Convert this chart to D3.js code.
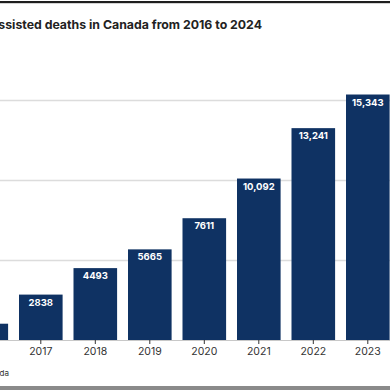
<!DOCTYPE html>
<html><head><meta charset="utf-8">
<script src="https://cdn.jsdelivr.net/npm/d3@7"></script>
<style>html,body{margin:0;padding:0;background:#fff;}svg{display:block;font-family:Inter,"Noto Sans",sans-serif;}</style>
</head><body>
<script>
const titleText = "Medically assisted deaths in Canada from 2016 to 2024";
const sourceText = "Source: Health Canada";
const years = ["2016","2017","2018","2019","2020","2021","2022","2023"];
const deaths = [1018, 2838, 4493, 5665, 7611, 10092, 13241, 15343];
const valueLabels = ["1018","2838","4493","5665","7611","10,092","13,241","15,343"];
const gridValues = [5000, 10000, 15000];

const W = 390, H = 390;
const svg = d3.select("body").append("svg").attr("width", W).attr("height", H);

svg.append("rect").attr("x",0).attr("y",1).attr("width",W).attr("height",2.2).attr("fill","#1e1e1e");
svg.append("rect").attr("x",0).attr("y",386).attr("width",W).attr("height",4).attr("fill","#8a8a8a");

svg.append("text").attr("x",262).attr("y",29).attr("text-anchor","end")
  .attr("font-size",12.3).attr("font-weight",700).attr("fill","#222").text(titleText);

const x = d3.scaleBand().domain(years).range([-40.95, 395.05]).paddingInner(0.2).paddingOuter(0.1);
const y = d3.scaleLinear().domain([0, 15000]).range([340, 100]);

svg.append("g").selectAll("line").data(gridValues).join("line")
  .attr("x1",0).attr("x2",W).attr("y1",d=>y(d)+0.5).attr("y2",d=>y(d)+0.5)
  .attr("stroke","#dcdcdc").attr("stroke-width",1.4);

svg.append("g").selectAll("rect").data(years).join("rect")
  .attr("x",d=>x(d)).attr("width",x.bandwidth())
  .attr("y",(d,i)=>y(deaths[i])).attr("height",(d,i)=>y(0)-y(deaths[i]))
  .attr("fill","#0f3263");

svg.append("g").selectAll("text").data(years).join("text")
  .attr("x",d=>x(d)+x.bandwidth()/2).attr("y",(d,i)=>y(deaths[i])+11)
  .attr("text-anchor","middle").attr("font-size",9.5).attr("font-weight",700).attr("fill","#fff")
  .text((d,i)=>valueLabels[i]);

const axis = d3.axisBottom(x).tickSize(4).tickPadding(4);
const ag = svg.append("g").attr("transform","translate(0,340)").call(axis);
ag.select(".domain").attr("stroke","#c8c8c8").attr("stroke-width",1.2);
ag.selectAll(".tick line").attr("stroke","#333");
ag.selectAll(".tick text").attr("font-size",10.5).attr("fill","#333").attr("font-family","Inter,sans-serif");

svg.append("text").attr("x",9).attr("y",376).attr("text-anchor","end")
  .attr("font-size",8).attr("fill","#333").text(sourceText);
</script>
</body></html>
